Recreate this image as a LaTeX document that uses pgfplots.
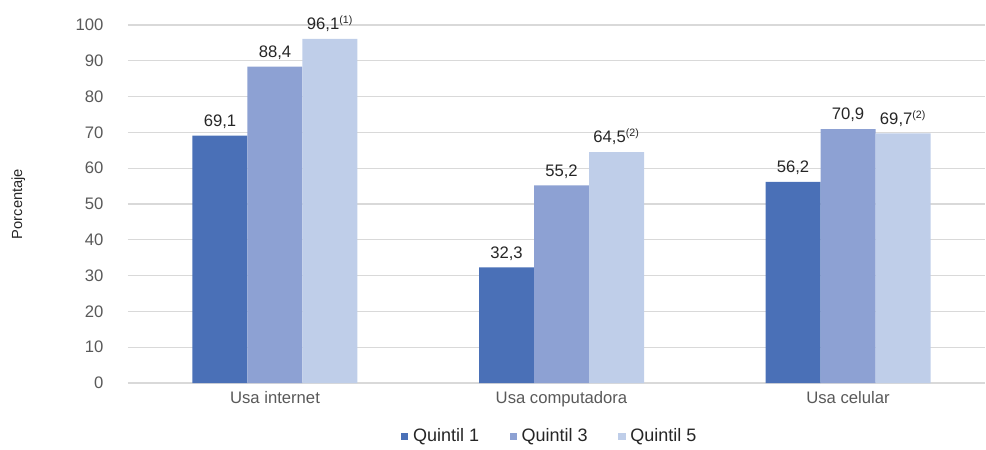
\documentclass[border=0pt]{standalone}
\usepackage{fontspec}
\setmainfont{Liberation Sans}
\usepackage{pgfplots}
\pgfplotsset{compat=1.18}
\definecolor{qone}{HTML}{4A70B7}
\definecolor{qthree}{HTML}{8DA1D3}
\definecolor{qfive}{HTML}{BFCEE9}
\definecolor{txt}{HTML}{595959}
\definecolor{lbl}{HTML}{262626}
\begin{document}
\begin{tikzpicture}[x=0.75pt,y=0.75pt]
\fontsize{12.5}{15}\selectfont
\begin{axis}[
    scale only axis,
    width=642.75pt, height=268.5pt,
    ybar=0pt, bar width=41.25pt,
    xmin=-0.513, xmax=2.478,
    ymin=0, ymax=100,
    ytick={0,10,...,100},
    xtick=data,
    xticklabels={Usa internet, Usa computadora, Usa celular},
    /pgf/number format/assume math mode=true,
    axis line style={draw=none},
    major tick length=0pt,
    ymajorgrids,
    grid style={color=black!15, line width=0.8pt},
    tick label style={font=\fontsize{12.5}{15}\selectfont, text=txt},
    yticklabel style={xshift=-14pt},
    xticklabel style={yshift=-2pt},
    ylabel={Porcentaje},
    ylabel style={at={(axis description cs:-0.128,0.5)}, anchor=center, font=\fontsize{11}{13}\selectfont, text=lbl},
    point meta=explicit symbolic,
    nodes near coords={\pgfplotspointmeta},
    every node near coord/.append style={font=\fontsize{12.5}{15}\selectfont, text=lbl, yshift=1pt},
    legend style={at={(axis description cs:0.4925,-0.149)}, anchor=center, draw=none, legend columns=-1,
        font=\fontsize{13.5}{15}\selectfont, text=lbl,
        /tikz/every odd column/.append style={column sep=1.5pt},
        /tikz/every even column/.append style={column sep=21pt}},
    legend image code/.code={\fill[#1] (0pt,-3pt) rectangle (5.5pt,2.5pt);},
]
\addplot[fill=qone, draw=none] coordinates {(0,69.1) [69,1] (1,32.3) [32,3] (2,56.2) [56,2]};
\addplot[fill=qthree, draw=none] coordinates {(0,88.4) [88,4] (1,55.2) [55,2] (2,70.9) [70,9]};
\addplot[fill=qfive, draw=none] coordinates {(0,96.1) [96,1\textsuperscript{\fontsize{8}{9}\selectfont(1)}] (1,64.5) [64,5\textsuperscript{\fontsize{8}{9}\selectfont(2)}] (2,69.7) [69,7\textsuperscript{\fontsize{8}{9}\selectfont(2)}]};
\legend{Quintil 1, Quintil 3, Quintil 5}
\end{axis}
\path (current axis.south west) ++(-128,-67) rectangle ([shift={(1,25)}]current axis.north east);
\end{tikzpicture}
\end{document}
